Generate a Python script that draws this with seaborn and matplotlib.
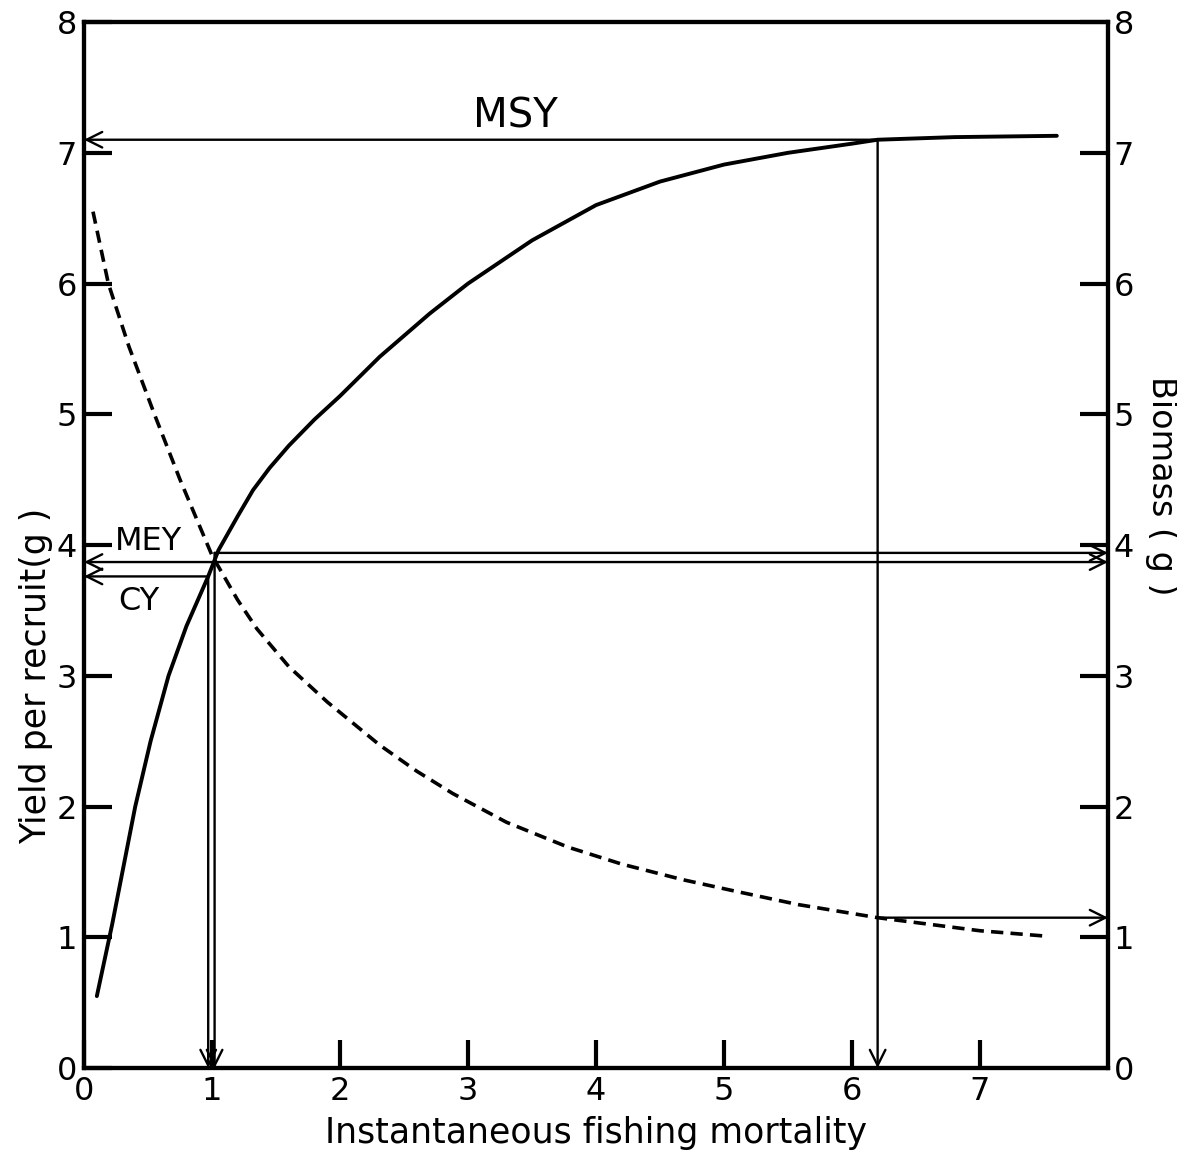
import matplotlib
matplotlib.use('Agg')
import matplotlib.pyplot as plt
import seaborn as sns
import pandas as pd

# ---- data ----
fishing_mortality_yield = [0.10, 0.22, 0.31, 0.40, 0.52, 0.66, 0.80, 0.97, 1.05, 1.20, 1.32,
                           1.45, 1.60, 1.80, 2.00, 2.31, 2.70, 3.00, 3.50, 4.00, 4.50, 5.00,
                           5.50, 6.00, 6.20, 6.80, 7.60]
yield_per_recruit = [0.55, 1.10, 1.55, 2.00, 2.50, 3.00, 3.38, 3.76, 3.96, 4.22, 4.42,
                     4.59, 4.76, 4.96, 5.14, 5.44, 5.77, 6.00, 6.33, 6.60, 6.78, 6.91,
                     7.00, 7.07, 7.10, 7.12, 7.13]

fishing_mortality_biomass = [0.07, 0.19, 0.35, 0.55, 0.75, 1.00, 1.20, 1.35, 1.60, 1.90,
                             2.31, 2.60, 2.88, 3.30, 3.78, 4.20, 4.68, 5.10, 5.58, 6.20,
                             7.00, 7.50]
biomass = [6.55, 6.00, 5.52, 5.00, 4.50, 3.92, 3.58, 3.36, 3.07, 2.80,
           2.47, 2.27, 2.10, 1.88, 1.69, 1.56, 1.44, 1.35, 1.25, 1.15,
           1.05, 1.01]

f_msy = 6.2
msy = 7.1
biomass_at_f_msy = 1.15
f_mey = 1.02
mey_level = 3.94
mey_left_level = 3.87
f_cy = 0.97
cy = 3.76

x_ticks = [0, 1, 2, 3, 4, 5, 6, 7]
y_ticks = [0, 1, 2, 3, 4, 5, 6, 7, 8]

# ---- style ----
sns.set_theme(style='ticks')
plt.rcParams['font.family'] = ['DejaVu Sans']
plt.rcParams['axes.linewidth'] = 3.0
plt.rcParams['axes.edgecolor'] = 'black'

fig = plt.figure(figsize=(11.77, 11.67), dpi=100)
fig.patch.set_facecolor('white')
ax = fig.add_axes([0.0714, 0.0848, 0.8700, 0.8963])

df_y = pd.DataFrame({'F': fishing_mortality_yield, 'Y': yield_per_recruit})
df_b = pd.DataFrame({'F': fishing_mortality_biomass, 'B': biomass})

sns.lineplot(data=df_y, x='F', y='Y', ax=ax, color='black', linewidth=2.8, sort=False)

ax2 = ax.twinx()
sns.lineplot(data=df_b, x='F', y='B', ax=ax2, color='black', linewidth=2.6,
             linestyle=(0, (3.4, 2.0)), sort=False)

for a in (ax, ax2):
    a.set_xlim(0, 8)
    a.set_ylim(0, 8)
    a.set_yticks(y_ticks)
    a.set_xlabel('')
    a.set_ylabel('')
    for s in a.spines.values():
        s.set_linewidth(3.0)
        s.set_color('black')
        s.set_visible(True)

ax.set_xticks(x_ticks)
ax.set_yticklabels([str(v) for v in y_ticks])
ax2.set_yticklabels([str(v) for v in y_ticks])
ax.tick_params(axis='both', direction='in', length=20, width=3, labelsize=23,
               pad=6, colors='black')
ax.tick_params(axis='y', pad=5)
ax2.tick_params(axis='y', direction='in', length=20, width=3, labelsize=23, pad=4,
                colors='black')

ax.set_xlabel('Instantaneous fishing mortality', fontsize=25, labelpad=6, color='black')
ax.text(-0.047, 0.375, 'Yield per recruit(g )', transform=ax.transAxes, rotation=90,
        ha='center', va='center', fontsize=25, color='black')
ax.text(1.052, 0.557, 'Biomass ( g )', transform=ax.transAxes, rotation=-90,
        ha='center', va='center', fontsize=24, color='black')

arrow = dict(arrowstyle='->', lw=1.7, color='black', mutation_scale=28, shrinkA=0, shrinkB=0)

# MSY
ax.annotate('', xy=(0, msy), xytext=(f_msy, msy), arrowprops=arrow)
ax.annotate('', xy=(f_msy, 0), xytext=(f_msy, msy), arrowprops=arrow)
ax.annotate('', xy=(8, biomass_at_f_msy), xytext=(f_msy, biomass_at_f_msy), arrowprops=arrow)
ax.text(3.37, 7.28, 'MSY', ha='center', va='center', fontsize=29, color='black')

# MEY
ax.annotate('', xy=(8, mey_level), xytext=(f_mey, mey_level), arrowprops=arrow)
ax.annotate('', xy=(0, mey_left_level), xytext=(f_mey, mey_left_level), arrowprops=arrow)
ax.annotate('', xy=(8, mey_left_level), xytext=(f_mey, mey_left_level), arrowprops=arrow)
ax.annotate('', xy=(f_mey, 0), xytext=(f_mey, mey_level), arrowprops=arrow)
ax.text(0.5, 4.03, 'MEY', ha='center', va='center', fontsize=23, color='black')

# CY
ax.annotate('', xy=(0, cy), xytext=(f_cy, cy), arrowprops=arrow)
ax.annotate('', xy=(f_cy, 0), xytext=(f_cy, cy), arrowprops=arrow)
ax.text(0.43, 3.57, 'CY', ha='center', va='center', fontsize=23, color='black')

fig.savefig('out.png', dpi=100, facecolor='white')
